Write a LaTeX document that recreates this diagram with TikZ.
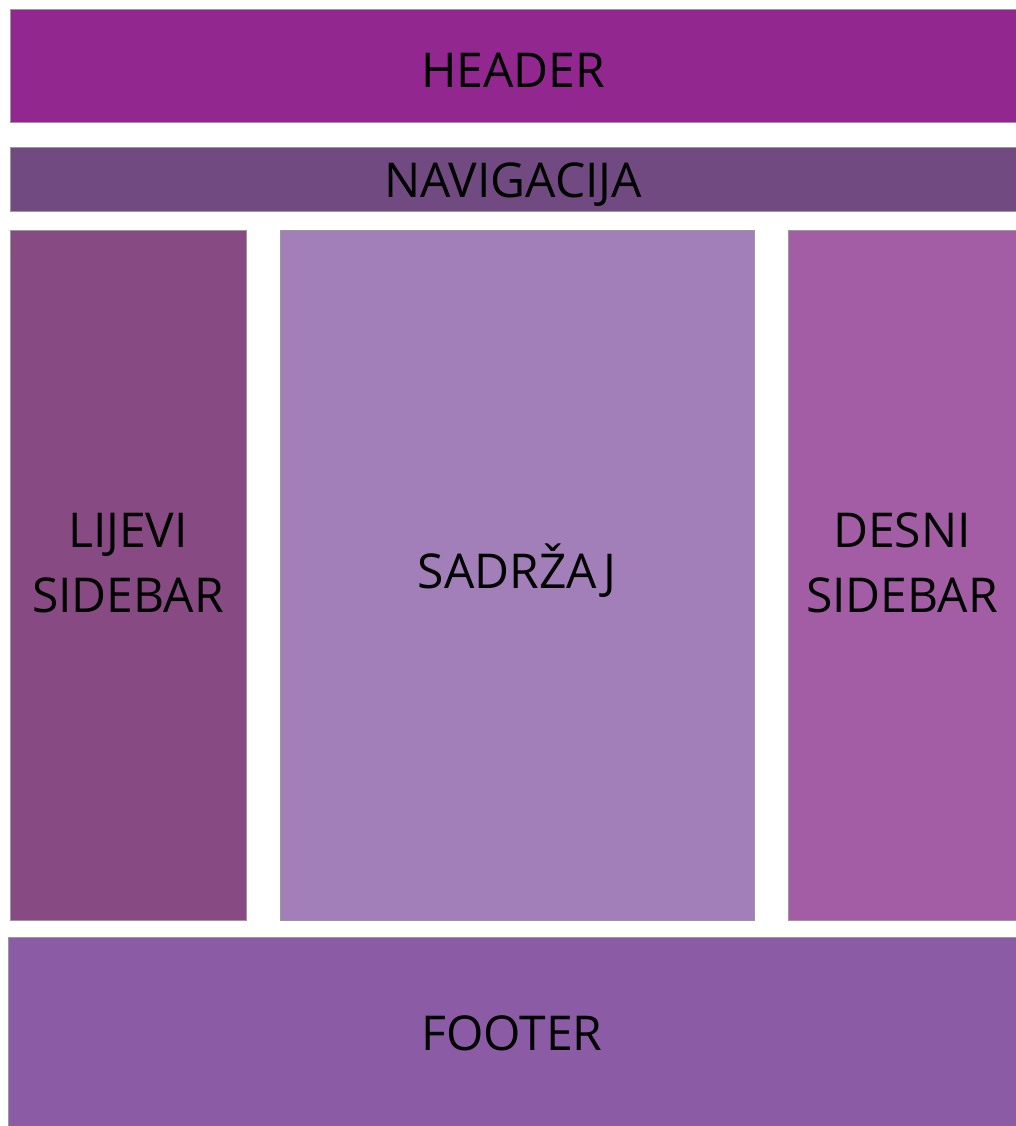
\documentclass[tikz,border=0pt]{standalone}
\usepackage{fontspec}
\setmainfont{Open Sans}
\usepackage{xcolor}
\usetikzlibrary{positioning}

\definecolor{headerpurple}{HTML}{92278F}
\definecolor{navpurple}{HTML}{714A82}
\definecolor{leftpurple}{HTML}{874A82}
\definecolor{contentpurple}{HTML}{A27FB8}
\definecolor{rightpurple}{HTML}{A35DA5}
\definecolor{footerpurple}{HTML}{8C5BA5}

\begin{document}
\begin{tikzpicture}[x=1pt, y=-1pt]
    % Define styles
    \tikzstyle{region} = [rectangle, draw=gray!80, line width=1pt, inner sep=0pt]
    \tikzstyle{regiontext} = [align=center, inner sep=0pt, font=\fontsize{48}{65}\selectfont, text=black]
    \useasboundingbox (0,0) rectangle (1016,1126);

    % Top bars
    \node[region, fill=headerpurple, minimum width=1006pt, minimum height=113pt,
          label={[regiontext, yshift=-4pt]center:HEADER}] (header) at (513, 66.5) {};
    \node[region, fill=navpurple, minimum width=1006pt, minimum height=63pt,
          label={[regiontext, yshift=-5pt]center:NAVIGACIJA}] (nav) at (513, 179.5) {};

    % Columns
    \node[region, fill=leftpurple, minimum width=236pt, minimum height=690pt,
          label={[regiontext, yshift=12pt]center:LIJEVI\\SIDEBAR}] (lsidebar) at (128, 575) {};
    \node[region, fill=contentpurple, minimum width=474pt, minimum height=690pt,
          label={[regiontext, yshift=4pt]center:SADRŽAJ}] (content) at (517, 575) {};
    \node[region, fill=rightpurple, minimum width=228pt, minimum height=690pt,
          label={[regiontext, yshift=12pt]center:DESNI\\SIDEBAR}] (rsidebar) at (902, 575) {};

    % Bottom bar
    \node[region, fill=footerpurple, minimum width=1008pt, minimum height=190pt,
          label={[regiontext, yshift=-1pt]center:FOOTER}] (footer) at (512, 1032) {};

\end{tikzpicture}
\end{document}
